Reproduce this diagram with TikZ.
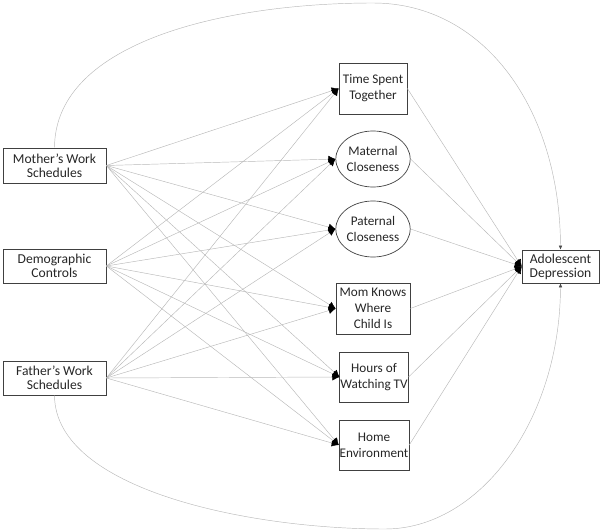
\documentclass[tikz,border=0pt]{standalone}
\usepackage{fontspec}
\setmainfont{Carlito}
\usetikzlibrary{arrows.meta,shapes.geometric}

\tikzset{
  var/.style={draw=black!75, line width=0.7pt, align=center, inner sep=0.5pt,
    font=\fontsize{13.6}{14}\selectfont, text=black!85},
  box/.style={var, rectangle},
  mid/.style={font=\fontsize{13.2}{16}\selectfont},
  oval/.style={var, mid, ellipse, inner sep=0pt, minimum width=68pt, minimum height=56pt},
  link/.style={draw=black!28, line width=0.45pt, -{Latex[black,length=7pt,width=7pt]}},
  directpath/.style={draw=black!28, line width=0.45pt, -{Latex[black!70,length=4pt,width=3.5pt]}}
}

\begin{document}
\begin{tikzpicture}[x=1pt, y=-1pt]
\useasboundingbox (0,0) rectangle (600,532);

% exogenous
\node[box, minimum width=103pt, minimum height=35pt] (mother) at (54.5,165.5) {Mother's Work\\Schedules};
\node[box, minimum width=103pt, minimum height=34pt] (demo) at (54.5,266) {Demographic\\Controls};
\node[box, minimum width=103pt, minimum height=34pt] (father) at (54.5,378) {Father's Work\\Schedules};

% mediators
\node[box, mid, minimum width=68pt, minimum height=51pt] (time) at (373,88.5) {Time Spent\\Together};
\node[oval] (maternal) at (373,159) {Maternal\\Closeness};
\node[oval] (paternal) at (373,229) {Paternal\\Closeness};
\node[box, mid, minimum width=74pt, minimum height=51pt] (knows) at (373,308.5) {Mom Knows\\Where\\Child Is};
\node[box, mid, minimum width=68pt, minimum height=50pt] (tv) at (374,377) {Hours of\\Watching TV};
\node[box, mid, minimum width=68pt, minimum height=50pt] (home) at (374,445) {Home\\Environment};

% outcome
\node[box, minimum width=77pt, minimum height=33pt] (adol) at (560.5,266.5) {Adolescent\\Depression};

\foreach \s in {mother,demo,father}
  \foreach \t in {time,maternal,paternal,knows,tv,home}
    \draw[link] (\s.east) -- (\t.west);

\foreach \t in {time,maternal,paternal,knows,tv,home}
  \draw[link] (\t.east) -- (adol.west);

% direct paths
\coordinate (topbend) at (373,3);
\coordinate (lowbend) at (385,529);
\draw[directpath] (mother.north) .. controls (55,40) and (230,3) .. (topbend)
  .. controls (485,3) and (560,110) .. (adol.north);
\draw[directpath] (father.south) .. controls (55,490) and (250,529) .. (lowbend)
  .. controls (480,529) and (560,420) .. (adol.south);
\end{tikzpicture}
\end{document}
